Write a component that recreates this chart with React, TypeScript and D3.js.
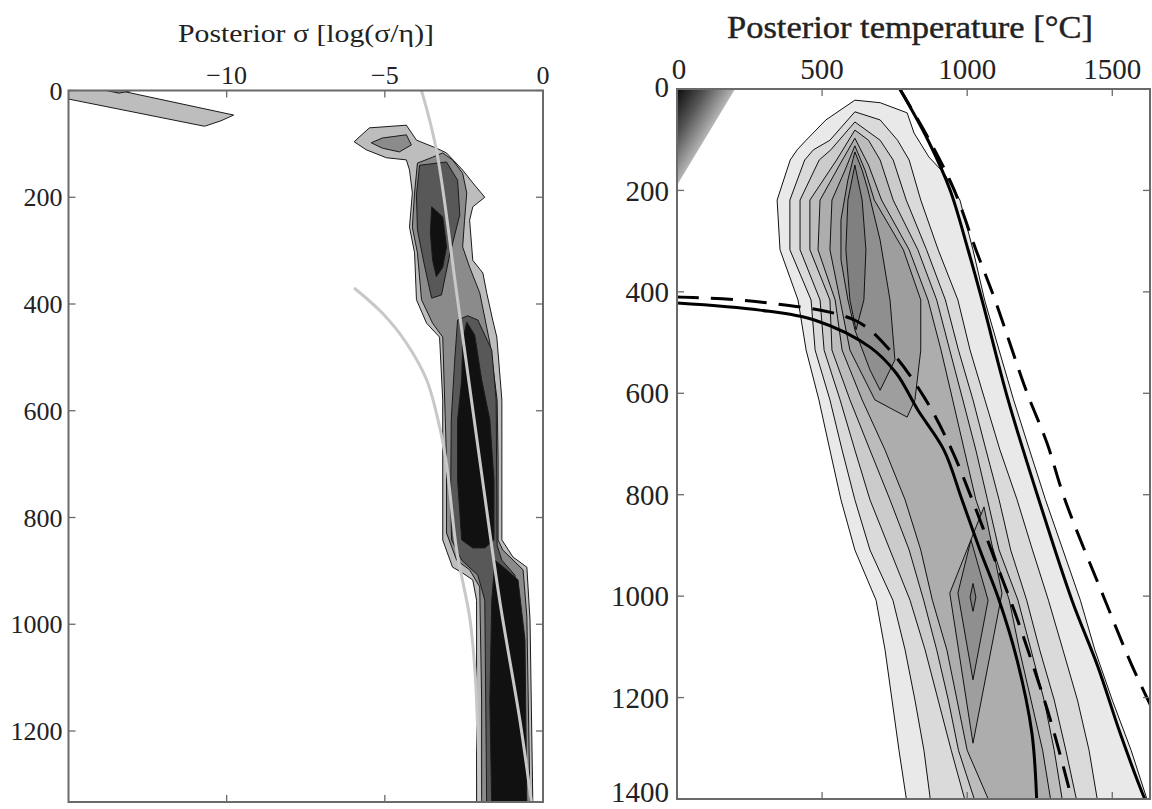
import React from 'react';
import * as d3 from 'd3';

type Pt = [number, number];

// ---------- axes ----------
const sigmaTicks = [-10, -5, 0];
const sigmaTickLabels = ['\u221210', '\u22125', '0'];
const depthTicksLeft = [0, 200, 400, 600, 800, 1000, 1200];
const tempTicks = [0, 500, 1000, 1500];
const depthTicksRight = [0, 200, 400, 600, 800, 1000, 1200, 1400];

// ---------- left panel: posterior sigma contours [log(sigma/eta), depth] ----------
const sigmaLevel1: Pt[][] = [
  [[-15, 0], [-13.4, 0], [-9.78, 46], [-10.19, 57], [-10.7, 67], [-15, 16]],
  [[-5.97, 96], [-5.49, 70], [-4.32, 65], [-4.0, 93], [-3.37, 108], [-3.05, 117], [-2.54, 149], [-2.22, 173], [-1.84, 200], [-2.22, 218], [-2.32, 243], [-2.22, 318], [-1.9, 342], [-1.78, 379], [-1.59, 430], [-1.46, 462], [-1.3, 580], [-1.3, 842], [-0.95, 874], [-0.51, 893], [-0.41, 992], [-0.32, 1340], [-2.1, 1340], [-2.1, 955], [-2.22, 917], [-2.54, 904], [-2.86, 893], [-3.17, 842], [-3.17, 580], [-3.27, 462], [-3.68, 436], [-4.0, 392], [-4.06, 304], [-4.22, 256], [-4.13, 192], [-4.22, 149], [-4.32, 130], [-4.95, 126], [-5.59, 111]],
];
const sigmaLevel2: Pt[][] = [
  [[-13.8, 0], [-13.0, 0], [-13.4, 5]],
  [[-5.43, 98], [-5.08, 89], [-4.32, 83], [-4.16, 102], [-4.54, 115], [-5.08, 108]],
  [[-3.97, 136], [-4.06, 192], [-4.13, 256], [-3.97, 304], [-3.84, 392], [-3.49, 436], [-3.17, 462], [-3.05, 692], [-3.05, 829], [-2.73, 880], [-2.32, 898], [-2.0, 930], [-1.94, 1142], [-1.94, 1340], [-0.41, 1340], [-0.51, 986], [-0.63, 898], [-1.27, 861], [-1.42, 842], [-1.42, 692], [-1.45, 580], [-1.68, 473], [-2.0, 379], [-2.32, 331], [-2.54, 293], [-2.48, 243], [-2.41, 192], [-2.54, 155], [-2.86, 130], [-3.17, 117], [-3.49, 125]],
];
const sigmaLevel3: Pt[][] = [
  [[-3.9, 140], [-3.05, 134], [-2.7, 168], [-2.63, 233], [-2.95, 308], [-3.21, 383], [-3.52, 389], [-3.75, 327], [-3.97, 261], [-4.0, 196]],
  [[-2.7, 430], [-2.79, 505], [-2.9, 617], [-2.92, 767], [-2.89, 842], [-2.57, 880], [-2.06, 908], [-1.84, 955], [-1.78, 1340], [-0.73, 1340], [-0.73, 992], [-0.89, 908], [-1.3, 880], [-1.45, 852], [-1.48, 580], [-1.62, 486], [-2.06, 430], [-2.38, 422]],
];
const sigmaLevel4: Pt[][] = [
  [[-3.52, 218], [-3.17, 237], [-3.05, 293], [-3.17, 331], [-3.37, 349], [-3.49, 318], [-3.56, 267]],
  [[-2.41, 434], [-2.16, 458], [-1.94, 542], [-1.68, 617], [-1.55, 730], [-1.55, 842], [-1.84, 857], [-2.22, 857], [-2.57, 842], [-2.7, 730], [-2.7, 617], [-2.57, 542], [-2.54, 467]],
  [[-1.52, 880], [-1.21, 895], [-0.79, 917], [-0.57, 1029], [-0.51, 1340], [-1.62, 1340], [-1.68, 1142], [-1.62, 955]],
];
const sigmaLevelColors = ['#bdbdbd', '#8b8b8b', '#585858', '#111111'];

const sigmaCurveStraight: Pt[] = [[-3.84, 0], [-3.37, 111], [-2.73, 379], [-2.0, 692], [-1.37, 955], [-0.73, 1180], [-0.35, 1340]];
const sigmaCurveBent: Pt[] = [[-5.97, 370], [-5.08, 417], [-4.32, 473], [-3.68, 542], [-3.27, 630], [-3.05, 700], [-2.73, 861], [-2.32, 986], [-2.16, 1080], [-2.06, 1204], [-2.0, 1340]];

// ---------- right panel: posterior temperature contours [T degC, depth] ----------
const tempCorner: Pt[] = [[0, 0], [200, 0], [0, 190]];

const tempLevel1: Pt[][] = [
  [[613, 22], [513, 61], [445, 101], [414, 120], [390, 140], [345, 219], [355, 317], [417, 416], [445, 515], [489, 613], [527, 712], [565, 810], [613, 909], [686, 1008], [717, 1106], [741, 1205], [765, 1304], [793, 1410], [1625, 1410], [1565, 1304], [1500, 1205], [1440, 1106], [1390, 1008], [1330, 909], [1270, 810], [1215, 712], [1160, 613], [1110, 515], [1060, 416], [1020, 317], [975, 219], [920, 166], [868, 134], [817, 87], [793, 47], [700, 27]],
];
const tempLevel2: Pt[][] = [
  [[613, 45], [527, 101], [470, 120], [440, 140], [389, 219], [389, 317], [462, 416], [476, 515], [527, 613], [569, 712], [613, 810], [665, 909], [744, 1008], [786, 1106], [820, 1205], [851, 1304], [875, 1410], [1451, 1410], [1420, 1304], [1380, 1205], [1330, 1106], [1280, 1008], [1225, 909], [1172, 810], [1113, 712], [1061, 613], [1010, 515], [968, 416], [900, 317], [840, 219], [800, 140], [760, 101], [700, 61]],
];
const tempLevel3: Pt[][] = [
  [[613, 65], [530, 120], [490, 140], [424, 219], [424, 317], [493, 416], [507, 515], [562, 613], [613, 712], [665, 810], [734, 909], [803, 1008], [855, 1106], [900, 1205], [945, 1304], [996, 1410], [1380, 1410], [1340, 1304], [1300, 1205], [1250, 1106], [1205, 1008], [1150, 909], [1110, 810], [1065, 712], [1020, 613], [970, 515], [925, 416], [860, 317], [790, 219], [745, 140], [700, 101]],
];
const tempLevel4: Pt[][] = [
  [[613, 81], [550, 140], [458, 219], [458, 317], [527, 416], [534, 515], [596, 613], [665, 712], [734, 810], [800, 909], [850, 1008], [895, 1106], [935, 1205], [970, 1304], [1030, 1410], [1330, 1410], [1300, 1304], [1265, 1205], [1220, 1106], [1175, 1008], [1110, 909], [1070, 810], [1030, 712], [985, 613], [940, 515], [895, 416], [830, 317], [745, 219], [700, 140], [660, 101]],
];
const tempLevel5: Pt[][] = [
  [[613, 97], [560, 150], [493, 219], [486, 317], [545, 416], [569, 515], [638, 613], [717, 712], [786, 810], [840, 909], [880, 1008], [930, 1106], [965, 1205], [1000, 1304], [1080, 1410], [1290, 1410], [1260, 1304], [1220, 1205], [1180, 1106], [1145, 1008], [1090, 909], [1030, 810], [990, 712], [950, 613], [910, 515], [865, 416], [800, 317], [705, 219], [660, 150]],
];
const tempLevel6: Pt[][] = [
  [[613, 112], [579, 160], [534, 219], [527, 317], [562, 416], [596, 515], [682, 613], [793, 647], [820, 613], [840, 515], [840, 416], [780, 317], [680, 219], [648, 160]],
  [[1058, 824], [940, 994], [1020, 1290], [1120, 994]],
];
const tempLevel7: Pt[][] = [
  [[613, 124], [589, 179], [565, 258], [565, 337], [589, 416], [613, 475], [665, 554], [700, 594], [751, 534], [734, 416], [700, 298], [658, 199], [638, 160]],
  [[1013, 889], [968, 994], [1020, 1165], [1072, 1008]],
];
const tempLevel8: Pt[][] = [
  [[613, 150], [589, 219], [582, 317], [596, 416], [617, 475], [644, 416], [651, 317], [638, 219]],
  [[1020, 975], [1030, 1002], [1020, 1030], [1010, 1002]],
];
const tempLevelColors = ['#e9e9e9', '#dadada', '#cbcbcb', '#bcbcbc', '#adadad', '#9e9e9e', '#8f8f8f', '#808080'];

const geothermRightSolid: Pt[] = [[768, 0], [865, 101], [941, 199], [1003, 317], [1051, 416], [1141, 613], [1247, 810], [1361, 1008], [1451, 1140], [1527, 1270], [1609, 1396], [1620, 1410]];
const geothermRightDashed: Pt[] = [[768, 0], [870, 101], [955, 199], [1030, 317], [1096, 416], [1203, 594], [1275, 698], [1337, 810], [1475, 1008], [1564, 1132], [1640, 1225]];
const geothermLeftSolid: Pt[] = [[0, 422], [286, 436], [476, 456], [665, 509], [755, 560], [830, 633], [920, 712], [982, 810], [1044, 909], [1110, 1008], [1172, 1126], [1223, 1270], [1240, 1410]];
const geothermLeftDashed: Pt[] = [[0, 410], [286, 420], [613, 456], [734, 515], [851, 607], [944, 708], [1020, 814], [1096, 929], [1165, 1033], [1230, 1142], [1292, 1254], [1365, 1410]];

export default function App() {
  const W = 1152;
  const H = 809;
  const xL = d3.scaleLinear().domain([-15, 0]).range([68.5, 543]);
  const yL = d3.scaleLinear().domain([0, 1333]).range([90.5, 802]);
  const xR = d3.scaleLinear().domain([0, 1630]).range([677, 1150]);
  const yR = d3.scaleLinear().domain([0, 1400]).range([89, 799]);

  const polyL = d3.line<Pt>().x(d => xL(d[0])).y(d => yL(d[1]));
  const polyR = d3.line<Pt>().x(d => xR(d[0])).y(d => yR(d[1]));
  const curveL = d3.line<Pt>().x(d => xL(d[0])).y(d => yL(d[1])).curve(d3.curveCatmullRom.alpha(0.5));
  const curveR = d3.line<Pt>().x(d => xR(d[0])).y(d => yR(d[1])).curve(d3.curveCatmullRom.alpha(0.5));

  const sigmaLevels = [sigmaLevel1, sigmaLevel2, sigmaLevel3, sigmaLevel4];
  const tempLevels = [tempLevel1, tempLevel2, tempLevel3, tempLevel4, tempLevel5, tempLevel6, tempLevel7, tempLevel8];

  const [l0, l1] = xL.range();
  const [lt, lb] = yL.range();
  const [r0, r1] = xR.range();
  const [rt, rb] = yR.range();

  // gradient of the corner triangle, perpendicular to its hypotenuse
  const cdx = xR(tempCorner[1][0]) - xR(0);
  const cdy = yR(tempCorner[2][1]) - yR(0);
  const tt = 1 / (1 / (cdx * cdx) + 1 / (cdy * cdy));
  const gx2 = xR(0) + tt / cdx;
  const gy2 = yR(0) + tt / cdy;

  const frame = '#6a6a6a';
  const txt = '#222';
  const tick = 7;

  return (
    <svg width={W} height={H} style={{ position: 'absolute', left: 0, top: 0, background: '#fff' }}
      fontFamily="'Liberation Serif', 'DejaVu Serif', serif">
      <defs>
        <clipPath id="clipL"><rect x={l0} y={lt} width={l1 - l0} height={lb - lt} /></clipPath>
        <clipPath id="clipR"><rect x={r0} y={rt} width={r1 - r0} height={rb - rt} /></clipPath>
        <linearGradient id="cornerGrad" gradientUnits="userSpaceOnUse" x1={xR(0)} y1={yR(0)} x2={gx2} y2={gy2}>
          <stop offset="0" stopColor="#0a0a0a" />
          <stop offset="0.5" stopColor="#555" />
          <stop offset="1" stopColor="#b5b5b5" />
        </linearGradient>
      </defs>
      <rect x={0} y={0} width={W} height={H} fill="#fff" />

      {/* ---------- left panel ---------- */}
      <g clipPath="url(#clipL)">
        {sigmaLevels.map((lvl, i) => lvl.map((p, j) => (
          <path key={`s${i}-${j}`} d={polyL(p) + 'Z'} fill={sigmaLevelColors[i]} stroke="#1a1a1a" strokeWidth={1} strokeLinejoin="round" />
        )))}
        <path d={curveL(sigmaCurveBent) || ''} fill="none" stroke="#c8c8c8" strokeWidth={3} />
        <path d={curveL(sigmaCurveStraight) || ''} fill="none" stroke="#c8c8c8" strokeWidth={3} />
      </g>
      <rect x={l0} y={lt} width={l1 - l0} height={lb - lt} fill="none" stroke={frame} strokeWidth={2} />
      {sigmaTicks.map(t => (
        <g key={`sx${t}`}>
          <line x1={xL(t)} x2={xL(t)} y1={lt} y2={lt + tick} stroke={frame} strokeWidth={1.3} />
          <line x1={xL(t)} x2={xL(t)} y1={lb} y2={lb - tick} stroke={frame} strokeWidth={1.3} />
        </g>
      ))}
      {depthTicksLeft.map(t => (
        <g key={`sy${t}`}>
          <line x1={l0} x2={l0 + tick} y1={yL(t)} y2={yL(t)} stroke={frame} strokeWidth={1.3} />
          <line x1={l1} x2={l1 - tick} y1={yL(t)} y2={yL(t)} stroke={frame} strokeWidth={1.3} />
          <text x={l0 - 6} y={yL(t)} dy="0.35em" textAnchor="end" fontSize={26} fill={txt}>{t}</text>
        </g>
      ))}
      {sigmaTicks.map((t, i) => (
        <text key={`sl${t}`} x={xL(t)} y={lt - 7} textAnchor="middle" fontSize={26} fill={txt}>{sigmaTickLabels[i]}</text>
      ))}
      <text x={306} y={42} textAnchor="middle" fontSize={25} fill={txt} textLength={256} lengthAdjust="spacingAndGlyphs">
        Posterior  σ [log(σ/η)]
      </text>

      {/* ---------- right panel ---------- */}
      <g clipPath="url(#clipR)">
        <path d={polyR(tempCorner) + 'Z'} fill="url(#cornerGrad)" />
        {tempLevels.map((lvl, i) => lvl.map((p, j) => (
          <path key={`t${i}-${j}`} d={polyR(p) + 'Z'} fill={tempLevelColors[i]} stroke="#111" strokeWidth={1} strokeLinejoin="round" />
        )))}
        <path d={curveR(geothermRightSolid) || ''} fill="none" stroke="#000" strokeWidth={3} />
        <path d={curveR(geothermRightDashed) || ''} fill="none" stroke="#000" strokeWidth={3} strokeDasharray="22 12" />
        <path d={curveR(geothermLeftSolid) || ''} fill="none" stroke="#000" strokeWidth={3} />
        <path d={curveR(geothermLeftDashed) || ''} fill="none" stroke="#000" strokeWidth={3} strokeDasharray="22 12" />
      </g>
      <rect x={r0} y={rt} width={r1 - r0} height={rb - rt} fill="none" stroke={frame} strokeWidth={2} />
      {tempTicks.map(t => (
        <g key={`tx${t}`}>
          <line x1={xR(t)} x2={xR(t)} y1={rt} y2={rt + tick} stroke={frame} strokeWidth={1.3} />
          <line x1={xR(t)} x2={xR(t)} y1={rb} y2={rb - tick} stroke={frame} strokeWidth={1.3} />
          <text x={xR(t) + (t === 0 ? 2 : 0)} y={rt - 10} textAnchor="middle" fontSize={29} fill={txt}>{t}</text>
        </g>
      ))}
      {depthTicksRight.map(t => (
        <g key={`ty${t}`}>
          <line x1={r0} x2={r0 + tick} y1={yR(t)} y2={yR(t)} stroke={frame} strokeWidth={1.3} />
          <line x1={r1} x2={r1 - tick} y1={yR(t)} y2={yR(t)} stroke={frame} strokeWidth={1.3} />
          <text x={r0 - 8} y={yR(t) - (t === 0 ? 2 : t === 1400 ? 7 : 0)} dy="0.35em" textAnchor="end" fontSize={29} fill={txt}>{t}</text>
        </g>
      ))}
      <text x={910} y={38} textAnchor="middle" fontSize={31} fill={txt} stroke={txt} strokeWidth={0.4}
        textLength={366} lengthAdjust="spacingAndGlyphs">
        Posterior temperature [°C]
      </text>
    </svg>
  );
}
